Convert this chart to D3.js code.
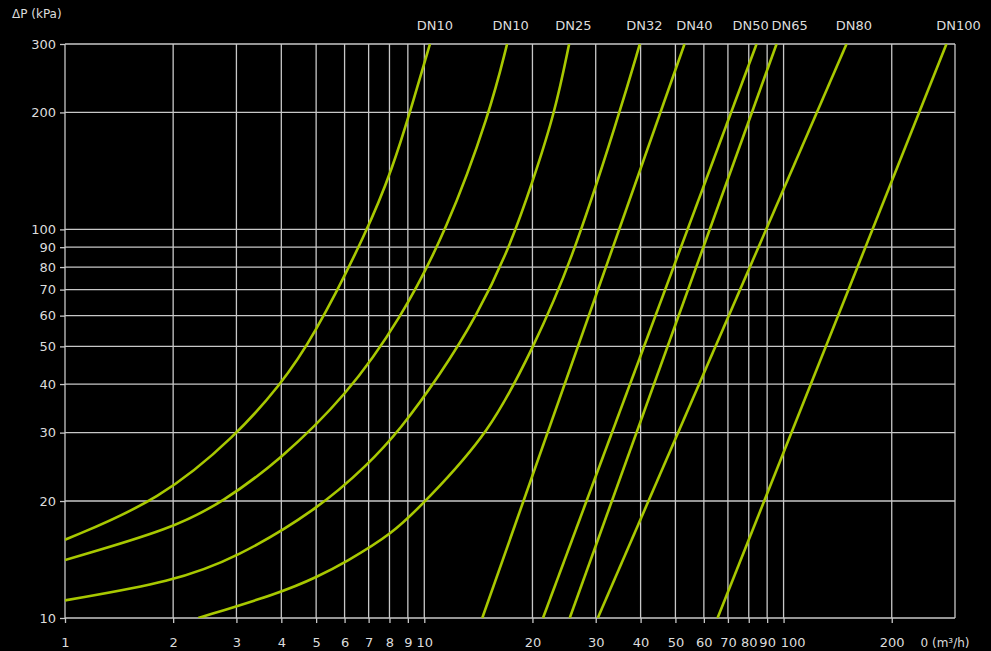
<!DOCTYPE html>
<html>
<head>
  <meta charset="utf-8">
  <title>Pressure drop vs flow</title>
  <script src="https://d3js.org/d3.v7.min.js"></script>
  <style>
    html, body { margin: 0; padding: 0; background: #000; }
    svg { display: block; }
    text { font-family: "DejaVu Sans", sans-serif; fill: #dcdcdc; }
    .grid line { stroke: #c8c8c8; stroke-width: 1.3; }
    .axis line { stroke: #c8c8c8; stroke-width: 1.3; }
    .axis path { display: none; }
    .curve { fill: none; stroke: #a8c800; stroke-width: 2.6; }
  </style>
</head>
<body>
  <svg id="chart" width="991" height="651"></svg>
  <script>
    // axis ticks
    var flowTicks = [1, 2, 3, 4, 5, 6, 7, 8, 9, 10, 20, 30, 40, 50, 60, 70, 80, 90, 100, 200];
    var pressureTicks = [10, 20, 30, 40, 50, 60, 70, 80, 90, 100, 200, 300];

    // series labels and the flow they are centred on (top of the chart)
    var seriesNames = ['DN10', 'DN10', 'DN25', 'DN32', 'DN40', 'DN50', 'DN65', 'DN80', 'DN100'];
    var labelFlow = [10.7, 17.4, 26, 41, 56.5, 81, 104, 157, 307];

    // [flow m3/h, pressure kPa]
    var dn10a = [[1, 15.9], [1.84, 20.1], [3.01, 29.6], [3.97, 39.8], [4.87, 51.9], [6.97, 99.7], [8.18, 145], [9.12, 200], [10.37, 300]];
    var dn10b = [[1, 14.1], [2, 17.0], [2.75, 19.9], [3.97, 25.5], [6.09, 37.5], [8.56, 58.5], [11.57, 99.7], [15.23, 200], [17.0, 300]];
    var dn25 = [[1, 11.1], [2, 12.4], [3.01, 14.3], [5.03, 19.0], [6.97, 24.8], [8.56, 30.5], [11.06, 42.2], [14.0, 59.8], [17.3, 90], [20.1, 134], [23.1, 200], [25.3, 300]];
    var dn32 = [[2.35, 10], [3.97, 11.6], [5.03, 12.75], [6.02, 13.9], [8.18, 16.5], [10.04, 19.9], [15.2, 29.9], [20.1, 49.8], [25.4, 80], [35.0, 200], [39.8, 300]];
    var dn40 = [[14.5, 10], [53.0, 300]];
    var dn50 = [[21.4, 10], [84.1, 300]];
    var dn65 = [[25.4, 10], [95.6, 300]];
    var dn80 = [[30.4, 10], [149.7, 300]];
    var dn100 = [[65.5, 10], [284, 300]];

    var series = [dn10a, dn10b, dn25, dn32, dn40, dn50, dn65, dn80, dn100];

    var plotLeft = 65, plotRight = 955, plotTop = 44, plotBottom = 618;

    var svg = d3.select('#chart');

    var x = d3.scaleLog().domain([1, 300]).range([plotLeft, plotRight]);
    var y = d3.scaleLog().domain([10, 300]).range([plotBottom, plotTop]);

    svg.append('defs').append('clipPath')
        .attr('id', 'plot')
      .append('rect')
        .attr('x', plotLeft).attr('y', plotTop)
        .attr('width', plotRight - plotLeft).attr('height', plotBottom - plotTop);

    // grid
    var grid = svg.append('g').attr('class', 'grid');
    grid.selectAll('line.v')
        .data(flowTicks.concat([300]))
        .enter().append('line')
          .attr('class', 'v')
          .attr('x1', function(d) { return x(d); })
          .attr('x2', function(d) { return x(d); })
          .attr('y1', plotTop)
          .attr('y2', plotBottom);
    grid.selectAll('line.h')
        .data(pressureTicks)
        .enter().append('line')
          .attr('class', 'h')
          .attr('x1', plotLeft)
          .attr('x2', plotRight)
          .attr('y1', function(d) { return y(d); })
          .attr('y2', function(d) { return y(d); });

    // axes
    var xAxis = svg.append('g')
        .attr('class', 'axis')
        .attr('transform', 'translate(0,' + plotBottom + ')')
        .call(d3.axisBottom(x)
          .tickValues(flowTicks)
          .tickFormat(d3.format('d'))
          .tickSizeInner(5)
          .tickSizeOuter(0)
          .tickPadding(15));

    // the 100 label sits a bit right of its line in the original
    xAxis.selectAll('.tick text')
        .attr('dx', function(d) { return d === 100 ? 9 : 0; });

    svg.append('g')
        .attr('class', 'axis')
        .attr('transform', 'translate(' + plotLeft + ',0)')
        .call(d3.axisLeft(y)
          .tickValues(pressureTicks)
          .tickFormat(d3.format('d'))
          .tickSizeInner(5)
          .tickSizeOuter(0)
          .tickPadding(4));

    svg.selectAll('.axis text')
        .attr('font-family', null)
        .attr('font-size', null)
        .style('font-size', '13px')
        .style('fill', '#dcdcdc');

    // axis titles
    svg.append('text')
        .attr('x', 12)
        .attr('y', 18)
        .style('font-size', '12px')
        .text('ΔP (kPa)');

    svg.append('text')
        .attr('x', 945)
        .attr('y', 647)
        .attr('text-anchor', 'middle')
        .style('font-size', '12px')
        .text('0 (m³/h)');

    // curves
    var line = d3.line()
        .x(function(d) { return x(d[0]); })
        .y(function(d) { return y(d[1]); })
        .curve(d3.curveBasis);

    svg.append('g')
        .attr('clip-path', 'url(#plot)')
      .selectAll('path')
        .data(series)
        .enter().append('path')
          .attr('class', 'curve')
          .attr('d', line);

    // series labels
    svg.selectAll('text.dn')
        .data(seriesNames)
        .enter().append('text')
          .attr('class', 'dn')
          .attr('x', function(d, i) { return x(labelFlow[i]); })
          .attr('y', 30)
          .attr('text-anchor', 'middle')
          .style('font-size', '13px')
          .text(function(d) { return d; });
  </script>
</body>
</html>
